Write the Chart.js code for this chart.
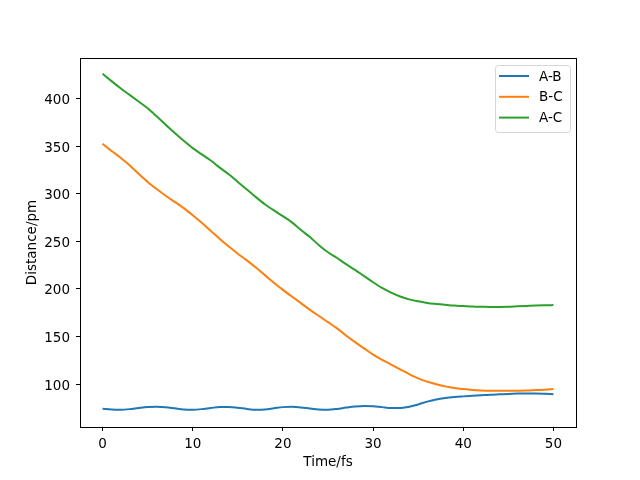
<!DOCTYPE html>
<html>
<head>
<meta charset="utf-8">
<script src="https://cdn.jsdelivr.net/npm/chart.js@4.4.1/dist/chart.umd.min.js"></script>
<style>
  html, body { margin: 0; padding: 0; background: #fff; }
  #wrap { width: 640px; height: 480px; }
</style>
</head>
<body>
<div id="wrap"><canvas id="distChart" width="640" height="480"></canvas></div>
<script>
// time axis (fs) and bond distances (pm)
const times = [0,1,2,3,4,5,6,7,8,9,10,11,12,13,14,15,16,17,18,19,20,21,22,23,24,25,
               26,27,28,29,30,31,32,33,34,35,36,37,38,39,40,41,42,43,44,45,46,47,48,49,50];
const distAB = [74,73.2,73,73.6,74.8,75.8,76,75.5,74.4,73.3,73,73.6,74.8,75.8,75.8,75,73.8,73,73.3,74.5,
                75.7,76,75.4,74.2,73.2,73,73.8,75.2,76.4,77,76.7,75.7,74.8,74.8,76.2,78.5,81.5,83.8,85.3,86.3,
                87,87.6,88.2,88.8,89.2,89.6,89.9,90.1,90.1,89.8,89.3];
const distBC = [352.7,345,338,330,321,312.5,305,298,291.5,285,277.5,269.5,261,252.5,244.5,237,230,222.5,214.5,206.5,
                199,192,185,178,171.5,165,158.5,151,144,137.5,131,125.5,120.5,115.5,110.5,106,102.5,99.8,97.5,95.8,
                94.7,93.8,93.3,93,92.9,92.9,93,93.2,93.6,94,94.7];
const distAC = [426.3,418.5,411,404,397,390,381.5,372.5,364,355.7,348,341.5,335,327.5,320.5,312.5,304.5,296.5,289,282.5,
                276.5,270,262,254.5,246,238.5,232.5,226,220,213.5,207,201,196,192,189,187,185.3,184.2,183.3,182.5,
                182,181.5,181.2,181,181.1,181.3,181.7,182.1,182.5,182.8,183];
const seriesNames = ['A-B', 'B-C', 'A-C'];
const seriesColors = ['#1f77b4', '#ff7f0e', '#2ca02c'];
const xTicks = [0, 10, 20, 30, 40, 50];
const yTicks = [100, 150, 200, 250, 300, 350, 400];

const fontFamily = "'DejaVu Sans', sans-serif";
Chart.defaults.color = '#000';
Chart.defaults.font.family = fontFamily;
Chart.defaults.font.size = 13.5;

const toPoints = vals => times.map((t, i) => ({ x: t, y: vals[i] }));

// box around the axes + matplotlib style legend in the upper right
const frameAndLegend = {
    id: 'frameAndLegend',
    afterDraw(chart) {
        const ctx = chart.ctx;
        const a = chart.chartArea;
        ctx.save();
        ctx.strokeStyle = '#000';
        ctx.lineWidth = 1;
        ctx.strokeRect(Math.round(a.left) + 0.5, Math.round(a.top) + 0.5,
                       Math.round(a.right - a.left), Math.round(a.bottom - a.top));

        // legend
        const boxW = 75, boxH = 67;
        const bx = a.right - 81, by = a.top + 7;
        ctx.beginPath();
        ctx.roundRect(bx + 0.5, by + 0.5, boxW, boxH, 3);
        ctx.fillStyle = 'rgba(255,255,255,0.8)';
        ctx.fill();
        ctx.strokeStyle = '#d6d6d6';
        ctx.stroke();

        ctx.font = '13.5px ' + fontFamily;
        ctx.textBaseline = 'middle';
        ctx.textAlign = 'left';
        seriesNames.forEach((name, i) => {
            const y = by + 11 + i * 20.8;
            ctx.beginPath();
            ctx.moveTo(bx + 4, y);
            ctx.lineTo(bx + 34, y);
            ctx.strokeStyle = seriesColors[i];
            ctx.lineWidth = 2;
            ctx.stroke();
            ctx.fillStyle = '#000';
            ctx.fillText(name, bx + 44, y + 1);
        });
        ctx.restore();
    }
};

const ctx = document.getElementById('distChart').getContext('2d');
const distChart = new Chart(ctx, {
    type: 'line',
    data: {
        datasets: [distAB, distBC, distAC].map((vals, i) => ({
            label: seriesNames[i],
            data: toPoints(vals),
            borderColor: seriesColors[i],
            backgroundColor: seriesColors[i],
            borderWidth: 2,
            pointRadius: 0,
            cubicInterpolationMode: 'monotone',
            fill: false
        }))
    },
    options: {
        responsive: false,
        animation: false,
        layout: {
            padding: { left: 0, right: 64, top: 58, bottom: 0 }
        },
        scales: {
            x: {
                type: 'linear',
                min: -2.5,
                max: 52.5,
                afterBuildTicks: scale => { scale.ticks = xTicks.map(v => ({ value: v })); },
                afterFit: scale => { scale.height = 53; },
                grid: {
                    drawOnChartArea: false,
                    tickLength: 4,
                    color: '#000'
                },
                border: { display: false },
                ticks: {
                    padding: 5,
                    maxRotation: 0,
                    callback: v => String(v)
                },
                title: {
                    display: true,
                    text: 'Time/fs',
                    padding: { top: 0, bottom: 9 }
                }
            },
            y: {
                type: 'linear',
                min: 54.8,
                max: 442.8,
                afterBuildTicks: scale => { scale.ticks = yTicks.map(v => ({ value: v })); },
                afterFit: scale => { scale.width = 80; },
                grid: {
                    drawOnChartArea: false,
                    tickLength: 4,
                    color: '#000'
                },
                border: { display: false },
                ticks: {
                    padding: 6,
                    labelOffset: 2,
                    callback: v => String(v)
                },
                title: {
                    display: true,
                    text: 'Distance/pm',
                    padding: { top: 24, bottom: 0 }
                }
            }
        },
        plugins: {
            legend: { display: false },
            tooltip: { enabled: false }
        }
    },
    plugins: [frameAndLegend]
});
</script>
</body>
</html>
